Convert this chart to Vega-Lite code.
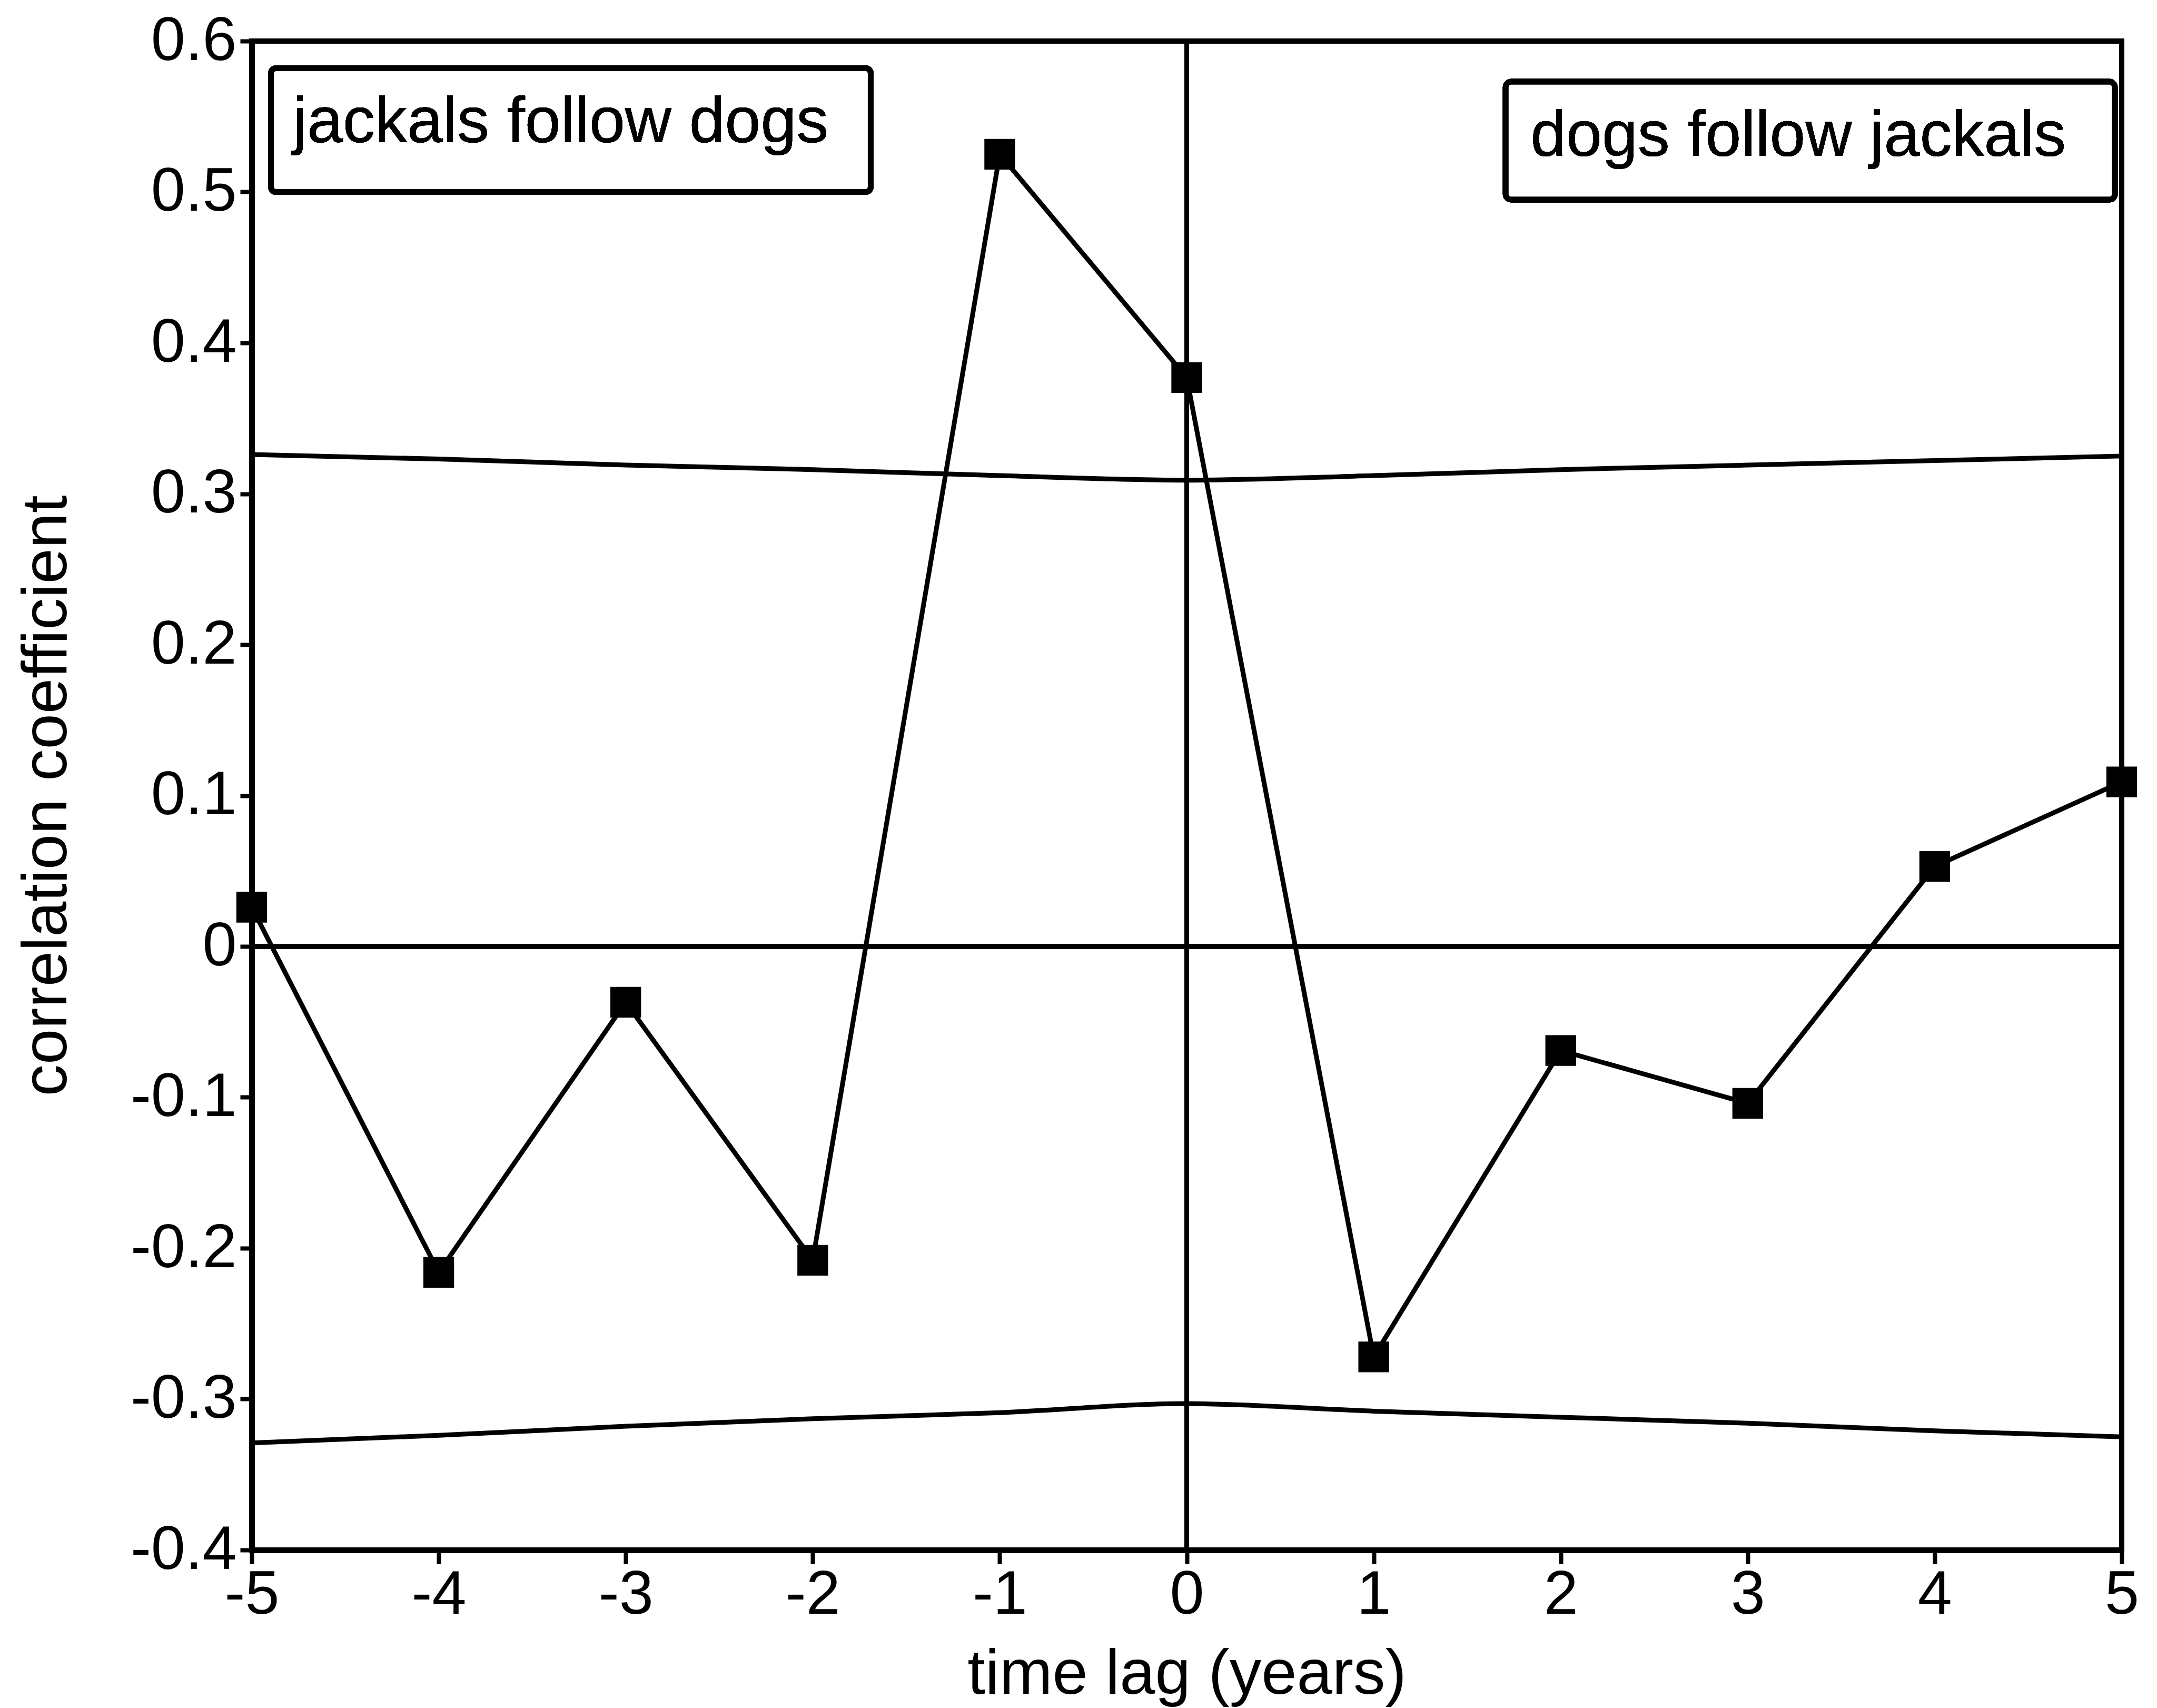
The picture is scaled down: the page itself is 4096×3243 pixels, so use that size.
{
  "$schema": "https://vega.github.io/schema/vega-lite/v6.json",
  "width": 3551,
  "height": 2865,
  "autosize": {"type": "none"},
  "padding": {"left": 478, "top": 78, "right": 67, "bottom": 300},
  "background": "white",
  "config": {
    "font": "Liberation Sans",
    "view": {"stroke": "black", "strokeWidth": 10},
    "axis": {
      "grid": false,
      "domainColor": "black",
      "domainWidth": 11,
      "tickColor": "black",
      "tickWidth": 8,
      "labelColor": "black",
      "titleColor": "black",
      "labelFont": "Liberation Sans",
      "titleFont": "Liberation Sans",
      "labelFontWeight": "normal",
      "titleFontWeight": "normal",
      "labelFontSize": 117,
      "titleFontSize": 121,
      "labelLimit": 0,
      "titleLimit": 0,
      "labelFlush": false,
      "labelOverlap": false,
      "labelBound": false
    }
  },
  "datasets": {
    "ccf": [
      {"lag": -5, "r": 0.026, "upper": 0.326, "lower": -0.329},
      {"lag": -4, "r": -0.216, "upper": 0.323, "lower": -0.324},
      {"lag": -3, "r": -0.037, "upper": 0.319, "lower": -0.318},
      {"lag": -2, "r": -0.208, "upper": 0.316, "lower": -0.313},
      {"lag": -1, "r": 0.525, "upper": 0.312, "lower": -0.309},
      {"lag": 0, "r": 0.377, "upper": 0.309, "lower": -0.303},
      {"lag": 1, "r": -0.272, "upper": 0.312, "lower": -0.308},
      {"lag": 2, "r": -0.069, "upper": 0.316, "lower": -0.312},
      {"lag": 3, "r": -0.104, "upper": 0.319, "lower": -0.316},
      {"lag": 4, "r": 0.053, "upper": 0.322, "lower": -0.321},
      {"lag": 5, "r": 0.109, "upper": 0.325, "lower": -0.325}
    ]
  },
  "data": {"name": "ccf"},
  "encoding": {
    "x": {
      "field": "lag",
      "type": "quantitative",
      "scale": {"domain": [-5, 5], "nice": false, "zero": false},
      "axis": {
        "values": [-5, -4, -3, -2, -1, 0, 1, 2, 3, 4, 5],
        "format": "d",
        "labelExpr": "replace(datum.label, '\u2212', '-')",
        "title": "time lag (years)",
        "tickSize": 26,
        "labelPadding": 2,
        "titleBaseline": "alphabetic",
        "titleY": 272
      }
    }
  },
  "layer": [
    {
      "mark": {"type": "line", "color": "black", "strokeWidth": 9, "interpolate": "monotone"},
      "encoding": {
        "y": {
          "field": "upper",
          "type": "quantitative",
          "scale": {"domain": [-0.4, 0.6], "nice": false, "zero": false},
          "axis": {
            "values": [-0.4, -0.3, -0.2, -0.1, 0, 0.1, 0.2, 0.3, 0.4, 0.5, 0.6],
            "format": ".1~f",
            "labelExpr": "replace(datum.label, '\u2212', '-')",
            "title": "correlation coefficient",
            "tickSize": 22,
            "labelPadding": 7,
            "titleBaseline": "alphabetic",
            "titleX": -353
          }
        }
      }
    },
    {
      "mark": {"type": "line", "color": "black", "strokeWidth": 9, "interpolate": "monotone"},
      "encoding": {
        "y": {"field": "lower", "type": "quantitative", "title": "correlation coefficient"}
      }
    },
    {
      "mark": {"type": "rule", "color": "black", "strokeWidth": 9},
      "encoding": {"x": null, "y": {"datum": 0, "type": "quantitative", "title": "correlation coefficient"}}
    },
    {
      "mark": {"type": "rule", "color": "black", "strokeWidth": 9},
      "encoding": {"x": {"datum": 0, "type": "quantitative", "title": "time lag (years)"}}
    },
    {
      "mark": {
        "type": "line",
        "color": "black",
        "strokeWidth": 9,
        "point": {"shape": "square", "size": 3400, "filled": true, "color": "black"}
      },
      "encoding": {
        "y": {"field": "r", "type": "quantitative", "title": "correlation coefficient"}
      }
    },
    {
      "mark": {"type": "rect", "fill": "white", "stroke": "black", "strokeWidth": 11, "cornerRadius": 10},
      "encoding": {
        "x": {"datum": -4.897, "type": "quantitative", "title": "time lag (years)"},
        "x2": {"datum": -1.69},
        "y": {"datum": 0.582, "type": "quantitative", "title": "correlation coefficient"},
        "y2": {"datum": 0.5}
      }
    },
    {
      "mark": {"type": "text", "align": "left", "baseline": "alphabetic", "fontSize": 122, "color": "black"},
      "encoding": {
        "x": {"datum": -4.78, "type": "quantitative", "title": "time lag (years)"},
        "y": {"datum": 0.533, "type": "quantitative", "title": "correlation coefficient"},
        "text": {"value": "jackals follow dogs"}
      }
    },
    {
      "mark": {"type": "rect", "fill": "white", "stroke": "black", "strokeWidth": 11, "cornerRadius": 10},
      "encoding": {
        "x": {"datum": 1.706, "type": "quantitative", "title": "time lag (years)"},
        "x2": {"datum": 4.963},
        "y": {"datum": 0.573, "type": "quantitative", "title": "correlation coefficient"},
        "y2": {"datum": 0.495}
      }
    },
    {
      "mark": {"type": "text", "align": "left", "baseline": "alphabetic", "fontSize": 122, "color": "black"},
      "encoding": {
        "x": {"datum": 1.838, "type": "quantitative", "title": "time lag (years)"},
        "y": {"datum": 0.524, "type": "quantitative", "title": "correlation coefficient"},
        "text": {"value": "dogs follow jackals"}
      }
    }
  ]
}
